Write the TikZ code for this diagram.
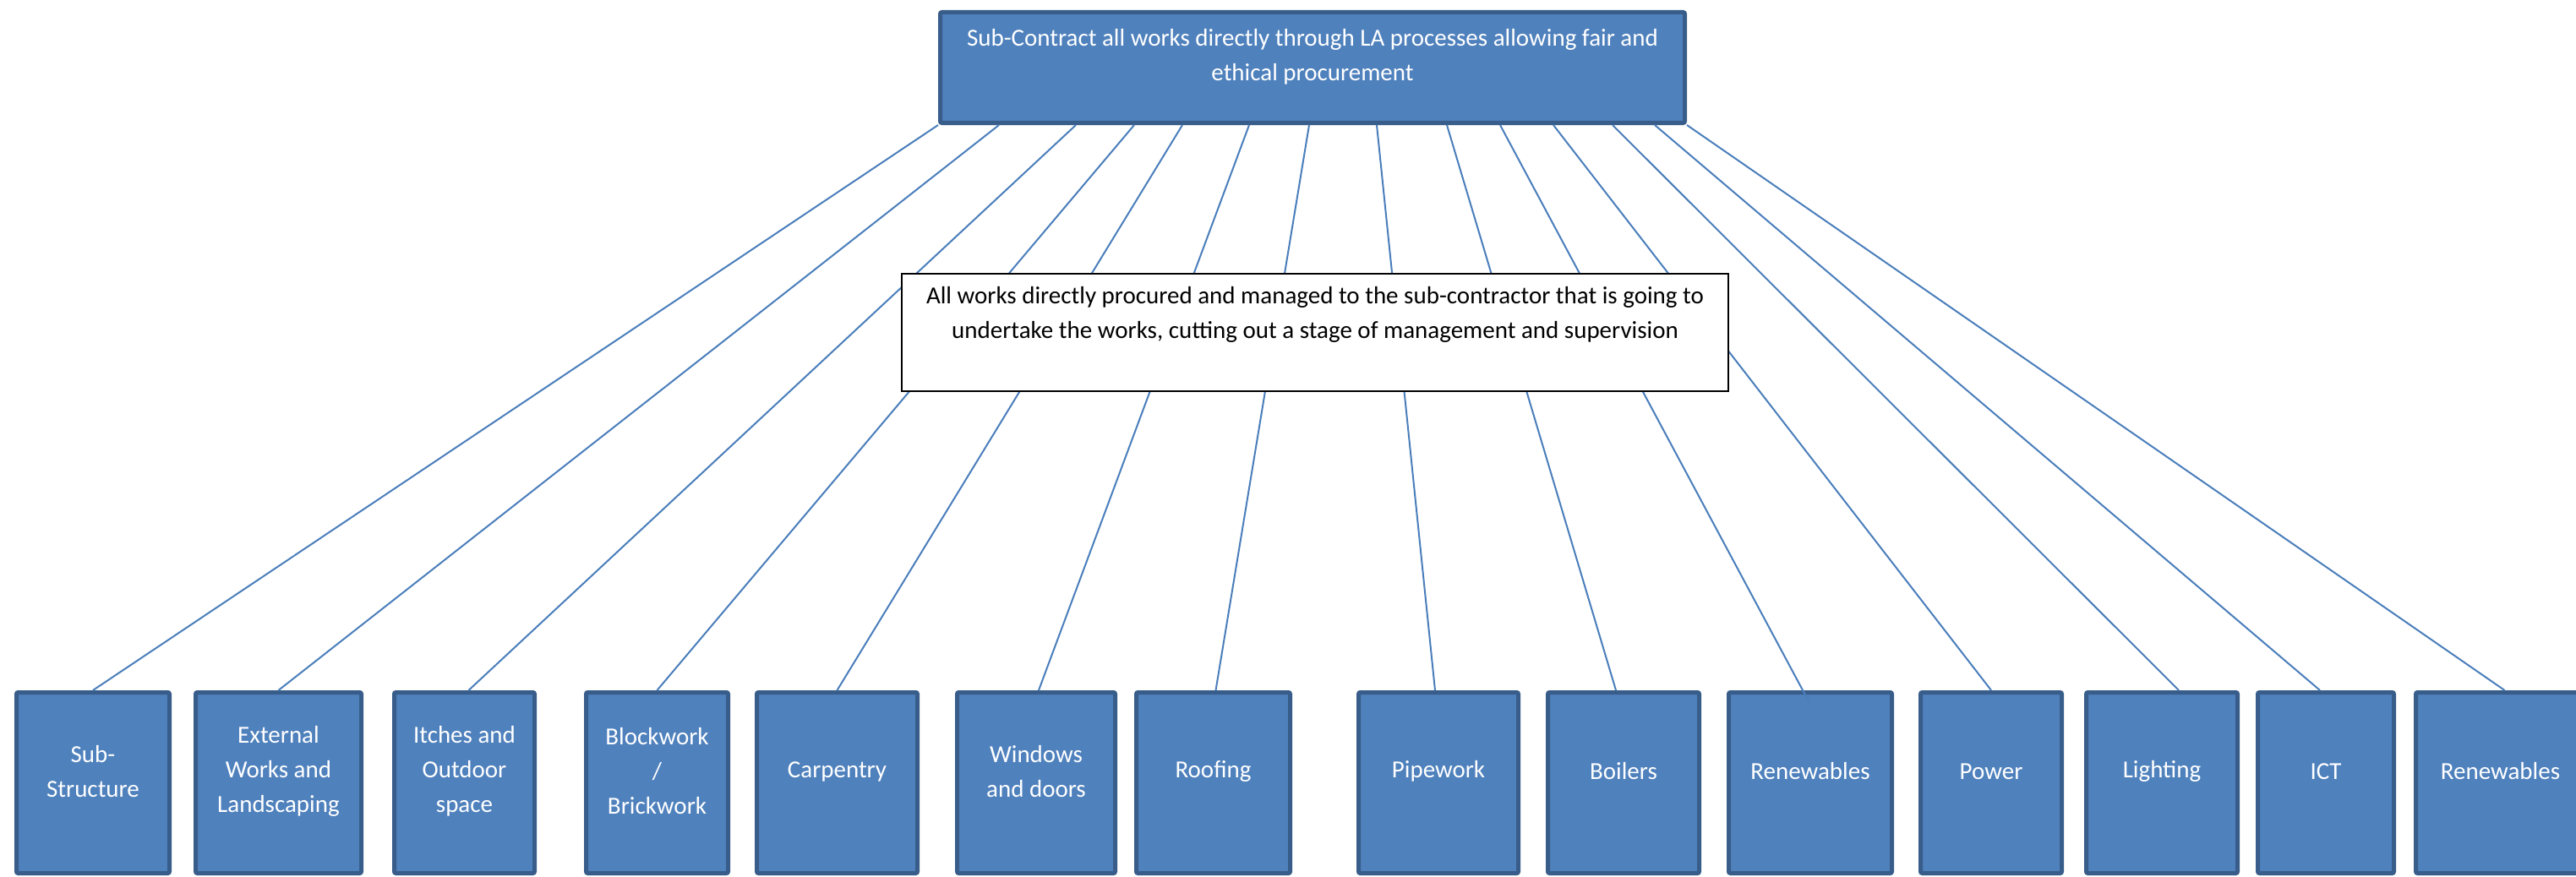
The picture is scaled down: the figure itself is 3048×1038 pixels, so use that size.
\documentclass[tikz,border=0pt]{standalone}
\usepackage{fontspec}
\setmainfont{Carlito}
\usetikzlibrary{calc}
\definecolor{boxfill}{HTML}{4F81BD}
\definecolor{boxedge}{HTML}{385D8A}
\definecolor{linkc}{HTML}{4A7EBB}
\tikzset{
  leaf/.style={draw=boxedge, fill=boxfill, line width=5pt, minimum height=214pt, rounded corners=2pt, inner sep=0pt},
  whitetext/.style={text=white, align=center, font=\fontsize{29}{41}\selectfont, inner sep=0pt},
  blacktext/.style={text=black, align=center, font=\fontsize{29}{41}\selectfont, inner sep=0pt},
  notebox/.style={draw=black, fill=white, line width=2pt, inner sep=0pt},
  link/.style={draw=linkc, line width=2pt},
}
\begin{document}
\begin{tikzpicture}[x=1pt,y=-1pt]
\useasboundingbox (0,0) rectangle (3048,1038);
\clip (0,0) rectangle (3048,1038);

% top box
\node[leaf, minimum width=881pt, minimum height=131pt] (top) at (1553,80) {};
\node[whitetext] (toptext) at (1553,67.5) {Sub-Contract all works directly through LA processes allowing fair and\\ethical procurement};

% bottom boxes
\node[leaf, minimum width=181pt] (s1) at (110,926.5) {};
\node[leaf, minimum width=196pt] (s2) at (329.5,926.5) {};
\node[leaf, minimum width=166pt] (s3) at (549.5,926.5) {};
\node[leaf, minimum width=168pt] (s4) at (777.5,926.5) {};
\node[leaf, minimum width=190pt] (s5) at (990.5,926.5) {};
\node[leaf, minimum width=187pt] (s6) at (1226,926.5) {};
\node[leaf, minimum width=182pt] (s7) at (1435.5,926.5) {};
\node[leaf, minimum width=189pt] (s8) at (1702,926.5) {};
\node[leaf, minimum width=179pt] (s9) at (1921,926.5) {};
\node[leaf, minimum width=193pt] (s10) at (2142,926.5) {};
\node[leaf, minimum width=167pt] (s11) at (2356,926.5) {};
\node[leaf, minimum width=179pt] (s12) at (2558,926.5) {};
\node[leaf, minimum width=161pt] (s13) at (2752,926.5) {};
\node[leaf, minimum width=200pt] (s14) at (2958.5,926.5) {};

\node[whitetext] (t1) at (110,913) {Sub-\\Structure};
\node[whitetext] (t2) at (329.5,913) {External\\Works and\\Landscaping};
\node[whitetext] (t3) at (549.5,913) {Itches and\\Outdoor\\space};
\node[whitetext] (t4) at (777.5,913) {Blockwork\\/\\Brickwork};
\node[whitetext] (t5) at (990.5,913) {Carpentry};
\node[whitetext] (t6) at (1226,913) {Windows\\and doors};
\node[whitetext] (t7) at (1435.5,913) {Roofing};
\node[whitetext] (t8) at (1702,913) {Pipework};
\node[whitetext] (t9) at (1921,913) {Boilers};
\node[whitetext] (t10) at (2142,913) {Renewables};
\node[whitetext] (t11) at (2356,913) {Power};
\node[whitetext] (t12) at (2558,913) {Lighting};
\node[whitetext] (t13) at (2752,913) {ICT};
\node[whitetext] (t14) at (2958.5,913) {Renewables};

% connectors
\draw[link] (top.south west) -- (s1.north);
\draw[link] ([xshift=72pt]top.south west) -- (s2.north);
\draw[link] ([xshift=163pt]top.south west) -- ([xshift=5pt]s3.north);
\draw[link] ([xshift=232pt]top.south west) -- (s4.north);
\draw[link] ([xshift=289pt]top.south west) -- (s5.north);
\draw[link] ([xshift=368pt]top.south west) -- ([xshift=3pt]s6.north);
\draw[link] ([xshift=439pt]top.south west) -- ([xshift=3pt]s7.north);
\draw[link] ([xshift=519pt]top.south west) -- ([xshift=-4pt]s8.north);
\draw[link] ([xshift=602pt]top.south west) -- ([xshift=-9pt]s9.north);
\draw[link] ([xshift=665pt]top.south west) -- ([xshift=-2pt,yshift=-13pt]s10.north);
\draw[link] ([xshift=728pt]top.south west) -- (s11.north);
\draw[link] ([xshift=798pt]top.south west) -- ([xshift=20pt]s12.north);
\draw[link] ([xshift=848pt]top.south west) -- ([xshift=-7pt]s13.north);
\draw[link] (top.south east) -- ([xshift=5pt]s14.north);

% middle note box
\node[notebox, minimum width=978pt, minimum height=139pt] (mid) at (1556,393.5) {};
\node[blacktext] (midtext) at (1556,372.5) {All works directly procured and managed to the sub-contractor that is going to\\undertake the works, cutting out a stage of management and supervision};
\end{tikzpicture}
\end{document}
